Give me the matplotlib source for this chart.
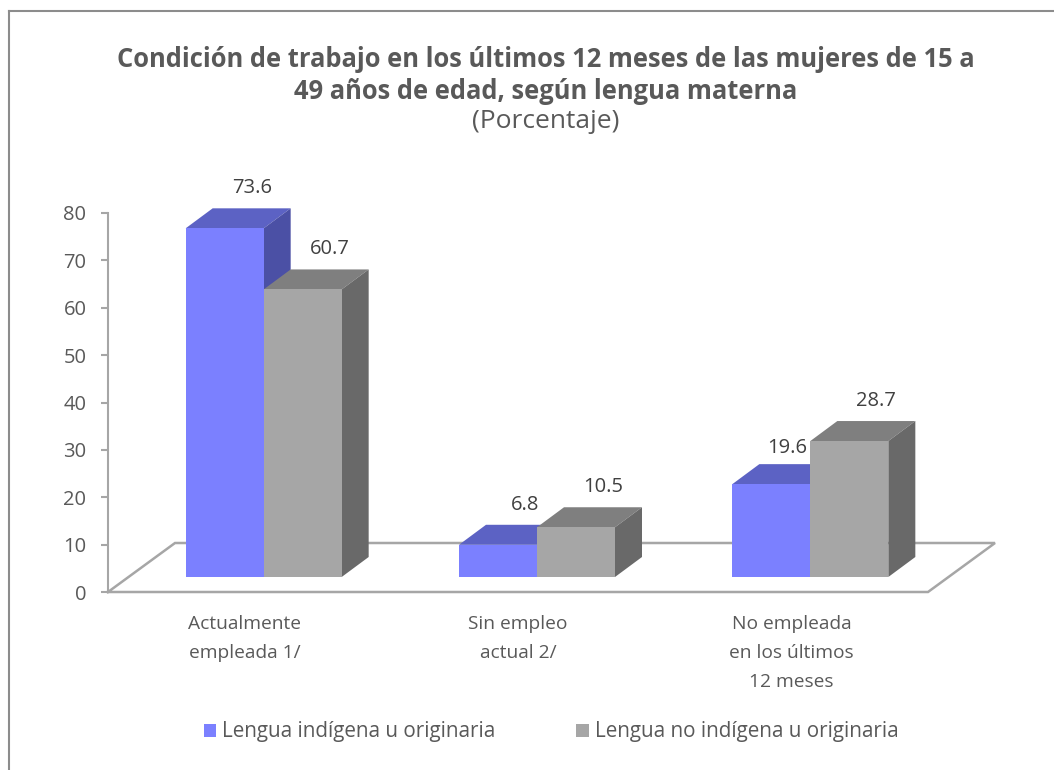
import matplotlib
matplotlib.use("Agg")
import matplotlib.pyplot as plt
from matplotlib.patches import Patch

# data
categories = ["Actualmente\nempleada 1/", "Sin empleo\nactual 2/", "No empleada\nen los últimos\n12 meses"]
series_names = ["Lengua indígena u originaria", "Lengua no indígena u originaria"]
indigena = [73.6, 6.8, 19.6]
no_indigena = [60.7, 10.5, 28.7]

TITLE = "Condición de trabajo en los últimos 12 meses de las mujeres de 15 a\n49 años de edad, según lengua materna"
SUBTITLE = "(Porcentaje)"

W, H = 1054, 770
FONT = "Open Sans"
TXT = "#595959"
AXC = "#A6A6A6"
# front / top / side colours for each series
COLORS = [("#7B80FF", "#5C62C4", "#4B50A5"), ("#A6A6A6", "#7F7F7F", "#696969")]

# pixel scale of the plot area
SX = 820 / 3      # px per category unit
SY = 379 / 80     # px per value unit
BAR_W = 78 / SX
SHIFT_X, SHIFT_Y = 19 / SX, 15 / SY     # bars sit a bit back on the floor
DX, DY = 27 / SX, 20 / SY               # bar depth
FDX, FDY = 67 / SX, 49 / SY             # floor depth
LBL_GAP = 20 / SY

plt.rcParams["font.family"] = [FONT, "DejaVu Sans"]

fig = plt.figure(figsize=(W / 100, H / 100), dpi=100)
ax = fig.add_axes([108 / W, 1 - 592 / H, 820 / W, 379 / H])
ax.set_xlim(-0.5, 2.5)
ax.set_ylim(0, 80)
ax.patch.set_alpha(0)

for sp in ["top", "right", "bottom"]:
    ax.spines[sp].set_visible(False)
ax.spines["left"].set_color(AXC)
ax.spines["left"].set_linewidth(1.5)
ax.set_yticks(range(0, 81, 10))
ax.tick_params(axis="y", colors=AXC, labelcolor=TXT, length=5, width=1.5,
               pad=10.5, labelsize=14.5)
ax.set_xticks(range(len(categories)))
ax.set_xticklabels(categories, color=TXT, fontsize=13.8, linespacing=1.8, va="top")
ax.tick_params(axis="x", length=0, pad=16.5)

# floor
fx = [-0.5, 2.5, 2.5 + FDX, -0.5 + FDX, -0.5]
fy = [0, 0, FDY, FDY, 0]
ax.plot(fx, fy, color=AXC, lw=1.8, clip_on=False, zorder=1, solid_joinstyle="miter")

x = list(range(len(categories)))
all_vals = [indigena, no_indigena]
for k, vals in enumerate(all_vals):
    front, top, side = COLORS[k]
    lefts = [c + SHIFT_X - BAR_W + k * BAR_W for c in x]
    for i, (l, v) in enumerate(zip(lefts, vals)):
        y1 = SHIFT_Y + v
        # top face
        ax.fill([l, l + BAR_W, l + BAR_W + DX, l + DX],
                [y1, y1, y1 + DY, y1 + DY], color=top, lw=0, clip_on=False, zorder=2 + k)
        # side face
        ax.fill([l + BAR_W, l + BAR_W + DX, l + BAR_W + DX, l + BAR_W],
                [SHIFT_Y, SHIFT_Y + DY, y1 + DY, y1], color=side, lw=0, clip_on=False, zorder=2 + k)
        ly = y1 + DY + LBL_GAP
        lx, ha = l + BAR_W / 2 + DX, "center"
        # keep the first series' label clear of the taller neighbour bar
        if k == 0 and ly - 1.7 < SHIFT_Y + all_vals[1][i]:
            lx, ha, ly = l + BAR_W - 0.01, "right", ly - 0.8
        ax.text(lx, ly, f"{v:.1f}", ha=ha, va="center",
                fontsize=14.5, color="#404040", zorder=5)
    ax.bar(lefts, vals, width=BAR_W, bottom=SHIFT_Y, align="edge", color=front,
           lw=0, clip_on=False, zorder=2.5 + k)

# titles
fig.text(546 / W, 1 - 75.5 / H, TITLE, ha="center", va="center", fontsize=18.4,
         fontweight="bold", color=TXT, linespacing=1.25)
fig.text(546 / W, 1 - 122 / H, SUBTITLE, ha="center", va="center", fontsize=19, color=TXT)
fig.text(540 / W, 1 - 3 / H, "Gráfico N° 2", ha="center", va="bottom", fontsize=14,
         fontweight="bold", color=TXT)

# legend
handles = [Patch(facecolor=COLORS[i][0], edgecolor="none") for i in range(2)]
fig.legend(handles, series_names, loc="center", bbox_to_anchor=(551 / W, 1 - 732 / H),
           ncol=2, frameon=False, fontsize=14.9, labelcolor=TXT, handlelength=0.6,
           handleheight=0.6, handletextpad=0.3, columnspacing=3.9)

# chart border
fig.add_artist(plt.Line2D([8.5 / W, 1], [1 - 10.5 / H, 1 - 10.5 / H], color="#8C8C8C", lw=1.5))
fig.add_artist(plt.Line2D([8.5 / W, 8.5 / W], [0, 1 - 10.5 / H], color="#8C8C8C", lw=1.5))

fig.savefig("out.png", dpi=100)
